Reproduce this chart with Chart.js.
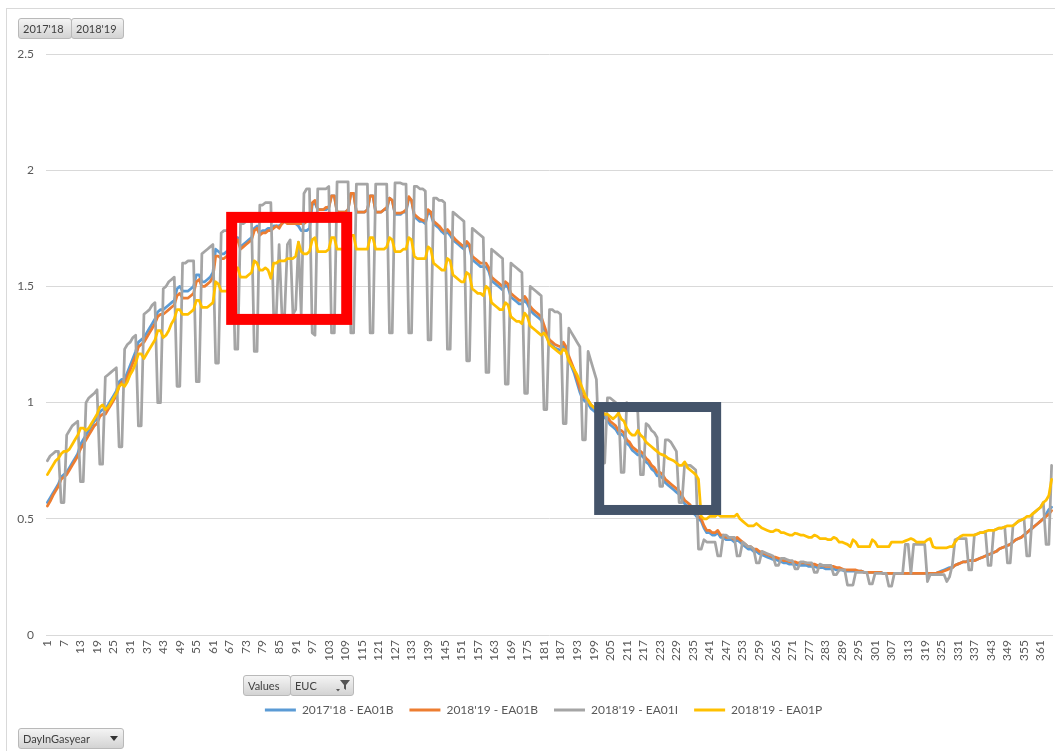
<!DOCTYPE html>
<html>
<head>
<meta charset="utf-8">
<script src="https://cdn.jsdelivr.net/npm/chart.js@4.4.1/dist/chart.umd.min.js"></script>
<style>
  html, body { margin: 0; padding: 0; background: #fff; }
  #wrap { position: relative; width: 1055px; height: 751px; overflow: hidden; }
  #frame { position: absolute; left: 6px; top: 8px; width: 1070px; height: 770px; border: 1px solid #d9d9d9; box-sizing: border-box; }
  #chart { position: absolute; left: 0; top: 0; }
  .btn { position: absolute; height: 21px; box-sizing: border-box; border: 1px solid #b9b9b9; border-radius: 3px;
         background: linear-gradient(#f4f4f4, #d3d3d3); font: 11px Lato, sans-serif; color: #404040;
         line-height: 19px; padding-left: 4px; white-space: nowrap; }
  .btn svg { position: absolute; }
</style>
</head>
<body>
<div id="wrap">
  <div id="frame"></div>
  <canvas id="chart" width="1055" height="751"></canvas>
  <div class="btn" style="left:18px;top:18px;width:54px;">2017'18</div>
  <div class="btn" style="left:71px;top:18px;width:53px;">2018'19</div>
  <div class="btn" style="left:243px;top:675px;width:48px;">Values</div>
  <div class="btn" style="left:290px;top:675px;width:64px;">EUC
    <svg style="left:44px;top:3px" width="16" height="14" viewBox="0 0 16 14">
      <path d="M5 1 H15 L11 6 V11 L9 9.5 V6 Z" fill="#555"/>
      <path d="M1 10 H5 L3 12.5 Z" fill="#555"/>
    </svg>
  </div>
  <div class="btn" style="left:18px;top:728px;width:106px;">DayInGasyear
    <svg style="left:90px;top:7px" width="10" height="6" viewBox="0 0 10 6"><path d="M1 0 H9 L5 5 Z" fill="#333"/></svg>
  </div>
</div>
<script>
// gas year days 1..365 (day 1 = 1 October)
const dayLabels = Array.from({ length: 365 }, (_, i) => String(i + 1));

// one line per week (Mon..Sun)
const ea01b1718 = [
  0.57,0.59,0.61,0.63,0.65,0.68,0.69,
  0.70,0.72,0.74,0.76,0.78,0.82,0.84,
  0.86,0.88,0.90,0.92,0.93,0.96,0.97,
  0.97,0.99,1.01,1.03,1.05,1.09,1.10,
  1.10,1.13,1.16,1.19,1.22,1.26,1.27,
  1.28,1.30,1.32,1.34,1.36,1.39,1.40,
  1.40,1.41,1.42,1.43,1.44,1.49,1.50,
  1.48,1.48,1.48,1.49,1.50,1.55,1.55,
  1.52,1.52,1.53,1.54,1.56,1.66,1.65,
  1.64,1.64,1.65,1.66,1.67,1.71,1.71,
  1.67,1.68,1.69,1.70,1.71,1.75,1.76,
  1.73,1.74,1.74,1.75,1.75,1.76,1.76,
  1.76,1.77,1.78,1.78,1.78,1.78,1.77,
  1.76,1.74,1.74,1.74,1.75,1.85,1.86,
  1.83,1.83,1.83,1.83,1.84,1.89,1.89,
  1.82,1.82,1.82,1.82,1.83,1.90,1.90,
  1.82,1.82,1.82,1.82,1.83,1.89,1.89,
  1.82,1.82,1.82,1.83,1.83,1.88,1.87,
  1.81,1.81,1.81,1.82,1.82,1.88,1.87,
  1.80,1.79,1.78,1.78,1.77,1.82,1.81,
  1.77,1.76,1.75,1.735,1.725,1.735,1.72,
  1.70,1.69,1.68,1.67,1.66,1.68,1.67,
  1.615,1.605,1.595,1.585,1.585,1.585,1.565,
  1.525,1.515,1.505,1.495,1.485,1.505,1.495,
  1.455,1.445,1.435,1.425,1.425,1.44,1.425,
  1.40,1.385,1.375,1.365,1.355,1.32,1.285,
  1.255,1.245,1.235,1.23,1.225,1.245,1.225,
  1.185,1.155,1.125,1.085,1.045,1.015,1.005,
  0.995,0.975,0.965,0.955,0.945,0.945,0.935,
  0.925,0.905,0.895,0.885,0.865,0.865,0.855,
  0.825,0.815,0.795,0.785,0.775,0.775,0.765,
  0.745,0.735,0.715,0.705,0.685,0.685,0.675,
  0.655,0.645,0.635,0.625,0.615,0.605,0.585,
  0.565,0.555,0.545,0.525,0.515,0.50,0.49,
  0.46,0.44,0.44,0.43,0.43,0.44,0.42,
  0.42,0.41,0.41,0.41,0.40,0.41,0.40,
  0.39,0.38,0.37,0.37,0.36,0.36,0.35,
  0.345,0.34,0.335,0.33,0.325,0.325,0.32,
  0.315,0.31,0.31,0.305,0.305,0.305,0.30,
  0.30,0.30,0.30,0.295,0.295,0.295,0.29,
  0.29,0.29,0.285,0.285,0.285,0.285,0.28,
  0.28,0.28,0.275,0.275,0.275,0.275,0.275,
  0.275,0.275,0.27,0.27,0.27,0.27,0.27,
  0.27,0.27,0.265,0.265,0.265,0.265,0.265,
  0.265,0.265,0.265,0.265,0.265,0.265,0.265,
  0.265,0.265,0.265,0.265,0.265,0.265,0.265,
  0.265,0.27,0.275,0.28,0.285,0.29,0.29,
  0.30,0.305,0.31,0.315,0.315,0.32,0.32,
  0.32,0.325,0.33,0.335,0.34,0.345,0.35,
  0.355,0.36,0.37,0.375,0.38,0.385,0.39,
  0.40,0.41,0.415,0.42,0.43,0.44,0.45,
  0.46,0.47,0.48,0.49,0.50,0.52,0.54,
  0.55
];

const ea01b1819 = [
  0.555,0.575,0.60,0.62,0.64,0.67,0.68,
  0.69,0.71,0.73,0.75,0.77,0.80,0.82,
  0.84,0.86,0.88,0.90,0.91,0.94,0.95,
  0.95,0.97,0.99,1.01,1.03,1.07,1.09,
  1.08,1.11,1.14,1.17,1.20,1.24,1.25,
  1.26,1.28,1.30,1.32,1.34,1.37,1.38,
  1.38,1.39,1.40,1.41,1.42,1.46,1.47,
  1.45,1.45,1.45,1.46,1.47,1.52,1.53,
  1.50,1.50,1.51,1.52,1.54,1.63,1.63,
  1.62,1.62,1.63,1.64,1.65,1.70,1.70,
  1.66,1.67,1.68,1.69,1.70,1.74,1.75,
  1.72,1.73,1.73,1.74,1.74,1.75,1.76,
  1.75,1.77,1.78,1.77,1.77,1.77,1.77,
  1.77,1.77,1.77,1.78,1.79,1.86,1.87,
  1.83,1.83,1.83,1.84,1.84,1.89,1.89,
  1.82,1.82,1.82,1.82,1.83,1.90,1.90,
  1.82,1.82,1.82,1.82,1.83,1.89,1.89,
  1.82,1.82,1.82,1.83,1.84,1.88,1.87,
  1.815,1.815,1.815,1.82,1.83,1.886,1.87,
  1.81,1.80,1.79,1.785,1.78,1.83,1.82,
  1.78,1.77,1.76,1.745,1.735,1.745,1.73,
  1.714,1.70,1.69,1.68,1.671,1.693,1.68,
  1.63,1.62,1.61,1.60,1.60,1.60,1.58,
  1.54,1.53,1.52,1.51,1.50,1.52,1.51,
  1.47,1.46,1.45,1.44,1.44,1.457,1.44,
  1.414,1.40,1.39,1.38,1.37,1.334,1.30,
  1.27,1.26,1.25,1.245,1.24,1.26,1.24,
  1.20,1.17,1.14,1.10,1.06,1.03,1.02,
  1.01,0.99,0.98,0.97,0.96,0.96,0.95,
  0.94,0.92,0.91,0.90,0.88,0.88,0.87,
  0.84,0.83,0.81,0.80,0.79,0.79,0.78,
  0.76,0.75,0.73,0.72,0.70,0.70,0.69,
  0.67,0.66,0.65,0.64,0.63,0.62,0.60,
  0.58,0.57,0.56,0.54,0.53,0.51,0.50,
  0.47,0.45,0.45,0.44,0.44,0.45,0.43,
  0.43,0.42,0.42,0.42,0.41,0.42,0.41,
  0.40,0.39,0.38,0.38,0.37,0.37,0.36,
  0.355,0.35,0.345,0.34,0.335,0.335,0.33,
  0.325,0.32,0.32,0.315,0.315,0.315,0.31,
  0.31,0.31,0.31,0.305,0.305,0.305,0.30,
  0.30,0.30,0.295,0.295,0.295,0.295,0.29,
  0.29,0.285,0.28,0.28,0.28,0.28,0.28,
  0.275,0.275,0.27,0.27,0.27,0.27,0.27,
  0.27,0.27,0.265,0.265,0.265,0.265,0.265,
  0.265,0.265,0.265,0.265,0.265,0.265,0.265,
  0.265,0.265,0.265,0.265,0.265,0.265,0.265,
  0.265,0.27,0.27,0.275,0.28,0.285,0.29,
  0.30,0.305,0.31,0.315,0.315,0.32,0.32,
  0.32,0.325,0.33,0.335,0.34,0.345,0.35,
  0.355,0.36,0.37,0.375,0.38,0.385,0.39,
  0.40,0.41,0.415,0.42,0.43,0.44,0.45,
  0.46,0.47,0.48,0.49,0.50,0.51,0.52,
  0.535
];

const ea01i1819 = [
  0.75,0.77,0.78,0.79,0.79,0.57,0.57,
  0.86,0.88,0.90,0.91,0.92,0.66,0.66,
  1.00,1.02,1.03,1.04,1.055,0.735,0.735,
  1.11,1.12,1.13,1.14,1.15,0.81,0.81,
  1.23,1.25,1.26,1.28,1.29,0.90,0.90,
  1.38,1.39,1.40,1.42,1.43,1.00,1.00,
  1.49,1.50,1.52,1.53,1.54,1.07,1.07,
  1.60,1.60,1.61,1.61,1.61,1.09,1.09,
  1.64,1.65,1.66,1.67,1.68,1.17,1.17,
  1.73,1.74,1.74,1.75,1.75,1.23,1.23,
  1.77,1.77,1.78,1.78,1.78,1.22,1.22,
  1.85,1.85,1.86,1.86,1.86,1.38,1.38,
  1.68,1.38,1.38,1.68,1.70,1.38,1.40,
  1.69,1.38,1.90,1.92,1.92,1.30,1.29,
  1.92,1.92,1.92,1.92,1.93,1.30,1.30,
  1.95,1.95,1.95,1.95,1.95,1.30,1.30,
  1.94,1.94,1.94,1.94,1.94,1.30,1.30,
  1.94,1.94,1.94,1.94,1.94,1.30,1.30,
  1.945,1.945,1.945,1.94,1.94,1.30,1.30,
  1.93,1.93,1.92,1.92,1.91,1.27,1.27,
  1.88,1.88,1.87,1.87,1.86,1.23,1.23,
  1.82,1.81,1.80,1.79,1.78,1.18,1.18,
  1.75,1.74,1.73,1.72,1.71,1.13,1.13,
  1.66,1.65,1.64,1.63,1.62,1.08,1.08,
  1.60,1.59,1.58,1.57,1.56,1.04,1.04,
  1.50,1.49,1.48,1.47,1.46,0.97,0.97,
  1.40,1.40,1.39,1.39,1.38,0.91,0.91,
  1.32,1.30,1.28,1.26,1.24,0.84,0.84,
  1.22,1.18,1.14,1.10,0.80,0.74,0.74,
  1.02,1.02,1.01,1.00,0.99,0.70,0.70,
  1.00,0.99,0.98,0.97,0.96,0.69,0.69,
  0.91,0.90,0.88,0.87,0.85,0.64,0.64,
  0.84,0.84,0.83,0.81,0.79,0.57,0.57,
  0.74,0.73,0.73,0.72,0.71,0.37,0.37,
  0.41,0.40,0.40,0.40,0.40,0.34,0.34,
  0.43,0.43,0.42,0.42,0.42,0.34,0.34,
  0.40,0.39,0.38,0.38,0.37,0.31,0.31,
  0.36,0.355,0.35,0.345,0.34,0.30,0.30,
  0.33,0.33,0.325,0.32,0.32,0.285,0.285,
  0.315,0.315,0.31,0.31,0.31,0.27,0.27,
  0.305,0.30,0.30,0.30,0.30,0.26,0.26,
  0.28,0.28,0.28,0.215,0.215,0.215,0.27,
  0.27,0.27,0.27,0.27,0.22,0.22,0.265,
  0.265,0.265,0.265,0.265,0.21,0.21,0.265,
  0.265,0.265,0.265,0.39,0.39,0.265,0.39,
  0.39,0.39,0.39,0.39,0.23,0.26,0.26,
  0.26,0.26,0.26,0.26,0.23,0.25,0.30,
  0.41,0.415,0.415,0.415,0.415,0.28,0.28,
  0.43,0.435,0.44,0.44,0.445,0.30,0.30,
  0.45,0.455,0.46,0.46,0.465,0.31,0.31,
  0.47,0.48,0.49,0.495,0.50,0.34,0.34,
  0.52,0.53,0.54,0.55,0.57,0.39,0.39,
  0.73
];

const ea01p1819 = [
  0.69,0.71,0.73,0.75,0.76,0.78,0.79,
  0.79,0.80,0.82,0.84,0.86,0.89,0.89,
  0.88,0.89,0.91,0.93,0.95,0.98,0.99,
  0.97,0.98,1.00,1.02,1.04,1.07,1.08,
  1.07,1.09,1.12,1.14,1.17,1.21,1.21,
  1.19,1.21,1.23,1.25,1.27,1.31,1.31,
  1.28,1.29,1.31,1.34,1.36,1.40,1.40,
  1.38,1.38,1.38,1.39,1.40,1.44,1.44,
  1.41,1.41,1.41,1.42,1.43,1.52,1.51,
  1.48,1.48,1.48,1.49,1.50,1.57,1.58,
  1.54,1.54,1.54,1.55,1.56,1.61,1.60,
  1.57,1.57,1.58,1.57,1.535,1.60,1.60,
  1.61,1.61,1.61,1.62,1.62,1.62,1.63,
  1.69,1.65,1.64,1.64,1.65,1.70,1.71,
  1.65,1.65,1.65,1.65,1.66,1.71,1.71,
  1.66,1.66,1.66,1.66,1.66,1.72,1.72,
  1.66,1.66,1.66,1.66,1.66,1.71,1.71,
  1.66,1.66,1.66,1.66,1.67,1.71,1.70,
  1.65,1.65,1.65,1.66,1.66,1.71,1.70,
  1.63,1.62,1.62,1.62,1.62,1.67,1.66,
  1.60,1.59,1.58,1.57,1.57,1.62,1.61,
  1.55,1.54,1.53,1.52,1.52,1.56,1.55,
  1.49,1.48,1.47,1.47,1.46,1.50,1.49,
  1.43,1.42,1.41,1.40,1.40,1.43,1.42,
  1.37,1.36,1.35,1.35,1.34,1.385,1.37,
  1.33,1.32,1.31,1.30,1.29,1.30,1.28,
  1.25,1.24,1.23,1.22,1.21,1.23,1.22,
  1.18,1.16,1.14,1.12,1.09,1.06,1.03,
  1.01,0.99,0.98,0.97,0.96,0.955,0.95,
  0.95,0.94,0.93,0.94,0.955,0.93,0.92,
  0.89,0.87,0.86,0.86,0.88,0.86,0.85,
  0.83,0.82,0.81,0.80,0.79,0.78,0.775,
  0.77,0.76,0.755,0.75,0.74,0.73,0.73,
  0.745,0.72,0.71,0.70,0.69,0.67,0.51,
  0.50,0.50,0.51,0.51,0.51,0.52,0.51,
  0.51,0.51,0.51,0.51,0.51,0.52,0.50,
  0.49,0.48,0.47,0.47,0.47,0.48,0.47,
  0.46,0.455,0.45,0.445,0.445,0.452,0.45,
  0.44,0.44,0.435,0.43,0.43,0.438,0.435,
  0.43,0.43,0.425,0.42,0.42,0.43,0.425,
  0.415,0.415,0.415,0.41,0.41,0.42,0.415,
  0.40,0.40,0.395,0.39,0.38,0.41,0.40,
  0.38,0.38,0.38,0.38,0.38,0.41,0.40,
  0.38,0.38,0.38,0.38,0.38,0.40,0.40,
  0.40,0.40,0.40,0.405,0.41,0.415,0.41,
  0.40,0.40,0.40,0.40,0.41,0.415,0.38,
  0.375,0.375,0.375,0.375,0.375,0.38,0.38,
  0.40,0.415,0.425,0.43,0.43,0.43,0.43,
  0.43,0.435,0.44,0.44,0.445,0.45,0.45,
  0.45,0.455,0.46,0.46,0.465,0.47,0.47,
  0.47,0.48,0.49,0.495,0.50,0.51,0.51,
  0.52,0.53,0.54,0.55,0.57,0.58,0.60,
  0.67
];

const seriesNames = ["2017'18 - EA01B", "2018'19 - EA01B", "2018'19 - EA01I", "2018'19 - EA01P"];
const seriesColors = ["#5b9bd5", "#ed7d31", "#a5a5a5", "#ffc000"];

// highlight boxes drawn on top of the plot (day index / value units)
const markBoxes = [
  { from: 66.8, to: 108.5, top: 1.797, bottom: 1.358, color: "#ff0000", width: 11 },
  { from: 200, to: 242.4, top: 0.981, bottom: 0.538, color: "#44546a", width: 10 }
];

const legendShift = 14;
const textColor = "#595959";

const boxPlugin = {
  id: "markBoxes",
  afterLayout(chart) {
    chart.legend.left += legendShift;
    chart.legend.right += legendShift;
  },
  afterDatasetsDraw(chart) {
    const { ctx, scales: { x, y } } = chart;
    ctx.save();
    markBoxes.forEach((b) => {
      const x1 = x.getPixelForValue(b.from);
      const x2 = x.getPixelForValue(b.to);
      const y1 = y.getPixelForValue(b.top);
      const y2 = y.getPixelForValue(b.bottom);
      ctx.strokeStyle = b.color;
      ctx.lineWidth = b.width;
      ctx.lineJoin = "miter";
      ctx.strokeRect(x1, y1, x2 - x1, y2 - y1);
    });
    ctx.restore();
  }
};

const allSeries = [ea01b1718, ea01b1819, ea01i1819, ea01p1819];

const ctx = document.getElementById("chart").getContext("2d");

const myChart = new Chart(ctx, {
  type: "line",
  data: {
    labels: dayLabels,
    datasets: allSeries.map((s, i) => ({
      label: seriesNames[i],
      data: s,
      borderColor: seriesColors[i],
      backgroundColor: seriesColors[i],
      order: 4 - i
    }))
  },
  options: {
    responsive: false,
    animation: false,
    events: [],
    elements: {
      point: { radius: 0 },
      line: { borderWidth: 2.75, tension: 0, borderJoinStyle: "round", borderCapStyle: "round", fill: false }
    },
    layout: { padding: { left: 6, top: 54, right: 2, bottom: 25 } },
    scales: {
      x: {
        offset: true,
        grid: { display: false, drawTicks: false },
        border: { display: false },
        ticks: {
          autoSkip: false,
          minRotation: 90,
          maxRotation: 90,
          padding: 5,
          color: textColor,
          font: { family: "Lato", size: 12 },
          callback: (v, i) => (i % 6 === 0 ? dayLabels[i] : "")
        },
        afterFit: (s) => {
          s.height = 53;
          s.paddingLeft = 0;
          s.paddingRight = 0;
        }
      },
      y: {
        min: 0,
        max: 2.5,
        grid: { color: "#d9d9d9", drawTicks: false },
        border: { display: false },
        ticks: {
          stepSize: 0.5,
          padding: 12,
          color: textColor,
          font: { family: "Lato", size: 12 },
          callback: (v) => String(v)
        },
        afterFit: (s) => {
          s.width = 40;
        }
      }
    },
    plugins: {
      tooltip: { enabled: false },
      legend: {
        position: "bottom",
        labels: {
          boxWidth: 31,
          boxHeight: 3,
          padding: 16,
          color: textColor,
          font: { family: "Lato", size: 12 },
          generateLabels: (chart) => {
            const items = Chart.defaults.plugins.legend.labels.generateLabels(chart);
            items.forEach((it) => {
              it.fillStyle = it.strokeStyle;
              it.lineWidth = 0;
            });
            return items.sort((a, b) => a.datasetIndex - b.datasetIndex);
          }
        }
      }
    }
  },
  plugins: [boxPlugin]
});
</script>
</body>
</html>
